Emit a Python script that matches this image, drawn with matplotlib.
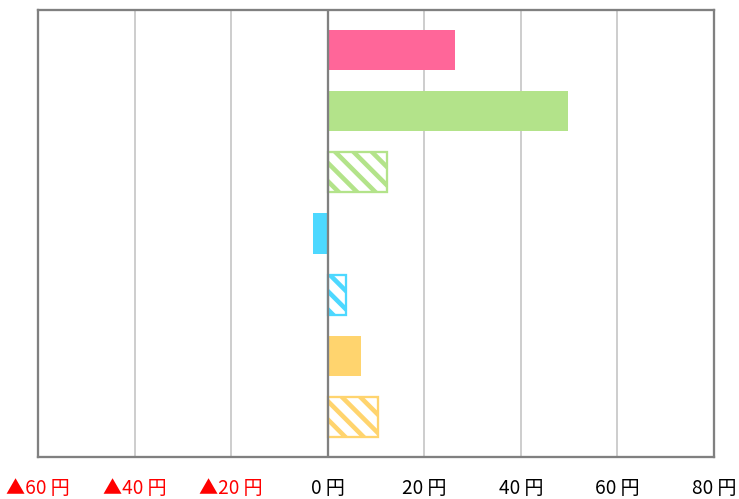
import matplotlib
matplotlib.use("Agg")
import matplotlib.pyplot as plt

# Data
categories = ["A", "B", "C", "D", "E", "F", "G"]
values = [26.3, 49.7, 12.2, -3.0, 3.7, 6.8, 10.5]
colors = ["#FF6699", "#B3E38A", "#B3E38A", "#4DD8FF", "#4DD8FF", "#FFD46E", "#FFD46E"]
hatched = [False, False, True, False, True, False, True]
xticks = [-60, -40, -20, 0, 20, 40, 60, 80]
xtick_labels = ["▲60 円", "▲40 円", "▲20 円", "0 円", "20 円", "40 円", "60 円", "80 円"]

DPI = 110
plt.rcParams['hatch.linewidth'] = 3.0
plt.rcParams['font.family'] = ['Noto Sans CJK JP', 'DejaVu Sans']

fig = plt.figure(figsize=(739 / DPI, 499 / DPI), dpi=DPI)
ax = fig.add_axes([38 / 739, 1 - 457 / 499, (714 - 38) / 739, (457 - 10) / 499])

ypos = list(range(len(categories)))
for y, v, c, h in zip(ypos, values, colors, hatched):
    if h:
        ax.barh(y, v, height=0.655, facecolor="white", edgecolor=c,
                linewidth=1.5, hatch="\\\\", zorder=3)
    else:
        ax.barh(y, v, height=0.655, color=c, linewidth=0, zorder=3)

ax.set_xlim(-60, 80)
ax.set_ylim(len(categories) - 1 + 0.654, -0.654)
ax.set_yticks([])
ax.set_xticks(xticks)
ax.set_xticklabels(xtick_labels, fontsize=12.5)
for lbl, t in zip(ax.get_xticklabels(), xticks):
    lbl.set_color("#FF0000" if t < 0 else "#000000")
ax.tick_params(axis="x", length=0, pad=14)

ax.grid(axis="x", color="#C0C0C0", linewidth=1.0, zorder=0)
ax.set_axisbelow(True)
ax.axvline(0, color="#808080", linewidth=1.5, zorder=4)

for s in ax.spines.values():
    s.set_color("#808080")
    s.set_linewidth(1.5)

fig.savefig("out.png", dpi=DPI)
